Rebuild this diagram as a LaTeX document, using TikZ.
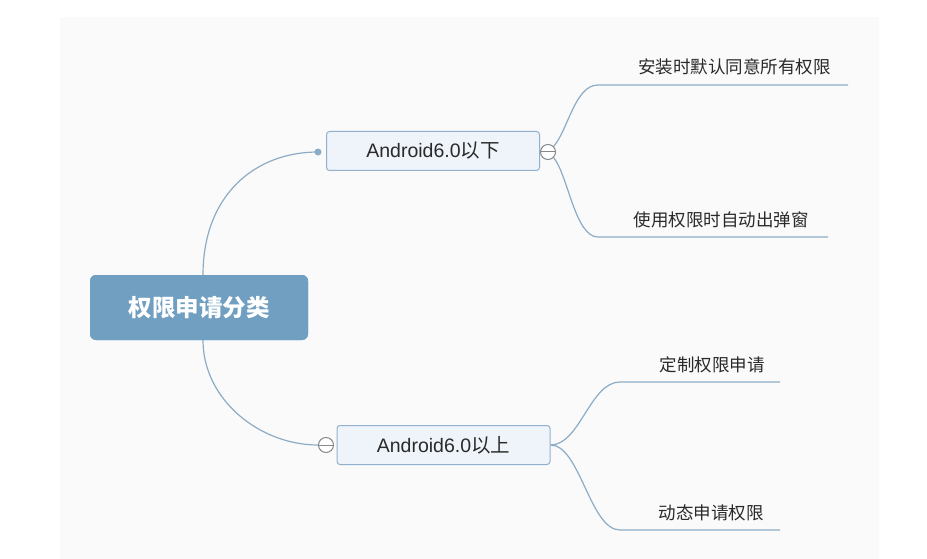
\documentclass[tikz,border=0pt]{standalone}
\usepackage{fontspec}
\setmainfont{Noto Sans CJK SC}
\newfontfamily\latinf{Liberation Sans}
\usepackage{tikz}
\definecolor{panel}{HTML}{FAFAFA}
\definecolor{rootfill}{HTML}{709FC1}
\definecolor{subfill}{HTML}{EEF4F9}
\definecolor{subdraw}{HTML}{8FB1CD}
\definecolor{link}{HTML}{8CACC6}
\definecolor{txt}{HTML}{2A2A2A}
\definecolor{knob}{HTML}{888888}
\tikzset{
  rootbox/.style={fill=rootfill, rounded corners=6pt, minimum width=218pt, minimum height=65pt, text=white, font=\fontsize{23.5}{26}\selectfont\bfseries, inner sep=0pt},
  subbox/.style={fill=subfill, draw=subdraw, line width=1pt, rounded corners=3pt, minimum width=213pt, minimum height=39pt, text=txt, font=\fontsize{19.5}{22}\selectfont, inner sep=0pt},
  leaf/.style={text=txt, font=\fontsize{17.5}{20}\selectfont, inner sep=0pt, anchor=base},
  conn/.style={draw=link, line width=1.2pt},
  collapse/.style={circle, draw=knob, fill=white, line width=1pt, minimum size=15pt, inner sep=0pt},
}
\begin{document}
\begin{tikzpicture}[x=1pt,y=-1pt]
\useasboundingbox (0,0) rectangle (927,559);
\fill[panel] (60,17) rectangle (879,559);
% nodes
\node[rootbox] (root) at (199,307.5) {权限申请分类};
\node[subbox] (low) at (433,151) {{\latinf Android6.0}以下};
\node[subbox] (high) at (443.5,445) {{\latinf Android6.0}以上};
\coordinate (rt) at (203,275);
\coordinate (rb) at (203,340);
\node[circle, fill=link, minimum size=7pt, inner sep=0pt] (dot) at (318,152) {};
\node[collapse] (c1) at (548,152) {};
\node[collapse] (c2) at (326,445) {};
\draw[knob, line width=1pt] (c1.west) -- (c1.east);
\draw[knob, line width=1pt] (c2.west) -- (c2.east);
% leaf endpoints
\coordinate (a1) at (598,85);  \coordinate (a2) at (848,85);
\coordinate (b1) at (598,237); \coordinate (b2) at (828,237);
\coordinate (d1) at (620,382); \coordinate (d2) at (780,382);
\coordinate (e1) at (620,530); \coordinate (e2) at (780,530);
% leaf texts
\node[leaf] (ta) at (734.5,74) {安装时默认同意所有权限};
\node[leaf] (tb) at (721,226) {使用权限时自动出弹窗};
\node[leaf] (td) at (712,371) {定制权限申请};
\node[leaf] (te) at (711,519) {动态申请权限};
% connectors root
\draw[conn] (rt) .. controls (203,195) and (255,152) .. (dot.center);
\draw[conn] (rb) .. controls (203,400) and (260,445) .. (c2.west);
% connectors top
\draw[conn] (c1.north east) .. controls (568,130) and (575,85) .. (a1) -- (a2);
\draw[conn] (c1.south east) .. controls (568,175) and (575,237) .. (b1) -- (b2);
% connectors bottom
\draw[conn] (high.east) .. controls (580,445) and (590,382) .. (d1) -- (d2);
\draw[conn] (high.east) .. controls (580,445) and (590,530) .. (e1) -- (e2);
% redraw root on top
\node[rootbox] at (root) {权限申请分类};
\end{tikzpicture}
\end{document}
